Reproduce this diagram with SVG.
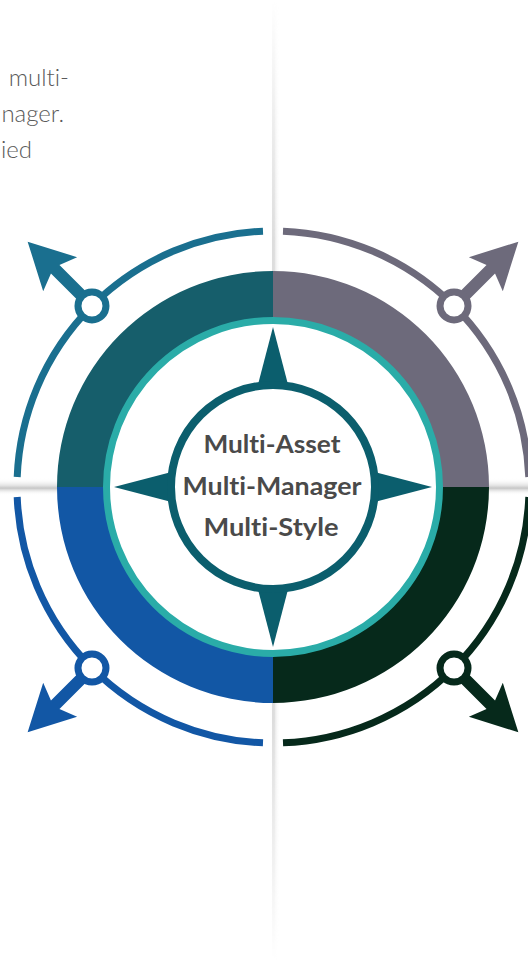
<svg xmlns="http://www.w3.org/2000/svg" xmlns:xlink="http://www.w3.org/1999/xlink" width="528" height="960" viewBox="0 0 528 960">
  <style>
    .side { font-family: Lato, "Open Sans", "Noto Sans", sans-serif; font-weight: 300; font-size: 24px; fill: #5a5a5a; font-variant-ligatures: none; }
    .center { font-family: Lato, "Noto Sans", "Liberation Sans", sans-serif; font-weight: 700; font-size: 25px; fill: #4a4a4a; text-anchor: middle; font-variant-ligatures: none; }
    .arc { fill: none; stroke-width: 7; }
    .knob { fill: #fff; stroke-width: 7; }
  </style>
  <defs>
    <linearGradient id="vfade" x1="0" y1="0" x2="0" y2="1">
      <stop offset="0" stop-color="#d4d4d4" stop-opacity="0"/>
      <stop offset="0.25" stop-color="#d4d4d4" stop-opacity="1"/>
      <stop offset="0.75" stop-color="#d4d4d4" stop-opacity="1"/>
      <stop offset="1" stop-color="#d4d4d4" stop-opacity="0"/>
    </linearGradient>
    <linearGradient id="vshadow" x1="0" y1="0" x2="1" y2="0">
      <stop offset="0" stop-color="#ffffff" stop-opacity="0"/>
      <stop offset="0.3" stop-color="#cfcfcf" stop-opacity="0.9"/>
      <stop offset="1" stop-color="#ffffff" stop-opacity="0"/>
    </linearGradient>
    <linearGradient id="hshadow" x1="0" y1="0" x2="0" y2="1">
      <stop offset="0" stop-color="#ffffff" stop-opacity="0"/>
      <stop offset="0.45" stop-color="#e2e2e2" stop-opacity="1"/>
      <stop offset="0.6" stop-color="#c6c6c6" stop-opacity="1"/>
      <stop offset="1" stop-color="#ffffff" stop-opacity="0"/>
    </linearGradient>
    <mask id="vmask">
      <rect x="260" y="0" width="30" height="960" fill="url(#vfade)"/>
    </mask>
    <path id="arrow" d="M 0,-6 L 52,-6 L 45,-24 L 91,0 L 45,24 L 52,6 L 0,6 Z"/>
  </defs>

  <rect width="528" height="960" fill="#ffffff"/>

  <g id="side-text">
    <text class="side" x="69" y="86" text-anchor="end">multi-</text>
    <text class="side" x="64" y="122" text-anchor="end">nager.</text>
    <text class="side" x="32" y="158" text-anchor="end">ied</text>
  </g>

  <g id="dividers">
    <g mask="url(#vmask)">
      <rect x="271" y="0" width="9" height="960" fill="url(#vshadow)"/>
      <rect x="272" y="0" width="2.5" height="960" fill="#d6d6d6"/>
    </g>
    <rect x="0" y="478" width="528" height="17" fill="url(#hshadow)"/>
  </g>

  <g id="quadrant-tl">
    <path d="M 57,487 A 216,216 0 0 1 273,271 L 273,321 A 166,166 0 0 0 107,487 Z" fill="#165e6b"/>
    <path class="arc" d="M 17.2,477 A 256,256 0 0 1 263,231.2" stroke="#1a6f8f"/>
  </g>
  <g id="quadrant-tr">
    <path d="M 273,271 A 216,216 0 0 1 489,487 L 439,487 A 166,166 0 0 0 273,321 Z" fill="#6d6a7b"/>
    <path class="arc" d="M 283,231.2 A 256,256 0 0 1 528.8,477" stroke="#6d6a7b"/>
  </g>
  <g id="quadrant-br">
    <path d="M 489,487 A 216,216 0 0 1 273,703 L 273,653 A 166,166 0 0 0 439,487 Z" fill="#06291b"/>
    <path class="arc" d="M 528.8,497 A 256,256 0 0 1 283,742.8" stroke="#06291b"/>
  </g>
  <g id="quadrant-bl">
    <path d="M 273,703 A 216,216 0 0 1 57,487 L 107,487 A 166,166 0 0 0 273,653 Z" fill="#1257a5"/>
    <path class="arc" d="M 263,742.8 A 256,256 0 0 1 17.2,497" stroke="#1257a5"/>
  </g>

  <g id="connectors">
    <use xlink:href="#arrow" href="#arrow" fill="#1a6f8f" transform="translate(91.98,305.98) rotate(-135)"/>
    <circle class="knob" cx="91.98" cy="305.98" r="14" stroke="#1a6f8f"/>
    <use xlink:href="#arrow" href="#arrow" fill="#6d6a7b" transform="translate(454.02,305.98) rotate(-45)"/>
    <circle class="knob" cx="454.02" cy="305.98" r="14" stroke="#6d6a7b"/>
    <use xlink:href="#arrow" href="#arrow" fill="#1257a5" transform="translate(91.98,668.02) rotate(135)"/>
    <circle class="knob" cx="91.98" cy="668.02" r="14" stroke="#1257a5"/>
    <use xlink:href="#arrow" href="#arrow" fill="#06291b" transform="translate(454.02,668.02) rotate(45)"/>
    <circle class="knob" cx="454.02" cy="668.02" r="14" stroke="#06291b"/>
  </g>

  <g id="teal-ring">
    <circle cx="273" cy="487" r="166.5" fill="#ffffff" stroke="#2aaca8" stroke-width="7"/>
  </g>

  <g id="compass">
    <g fill="#0b5e6d">
      <polygon points="273,327 255,396 291,396"/>
      <polygon points="273,647 255,578 291,578"/>
      <polygon points="114,487 183,469 183,505"/>
      <polygon points="432,487 363,469 363,505"/>
    </g>
    <circle cx="273" cy="487" r="102" fill="#ffffff" stroke="#0b5e6d" stroke-width="8"/>
  </g>

  <g id="center-label">
    <text class="center" x="272" y="453" textLength="137" lengthAdjust="spacingAndGlyphs">Multi-Asset</text>
    <text class="center" x="272" y="495" textLength="179" lengthAdjust="spacingAndGlyphs">Multi-Manager</text>
    <text class="center" x="271" y="536" textLength="135" lengthAdjust="spacingAndGlyphs">Multi-Style</text>
  </g>
</svg>
